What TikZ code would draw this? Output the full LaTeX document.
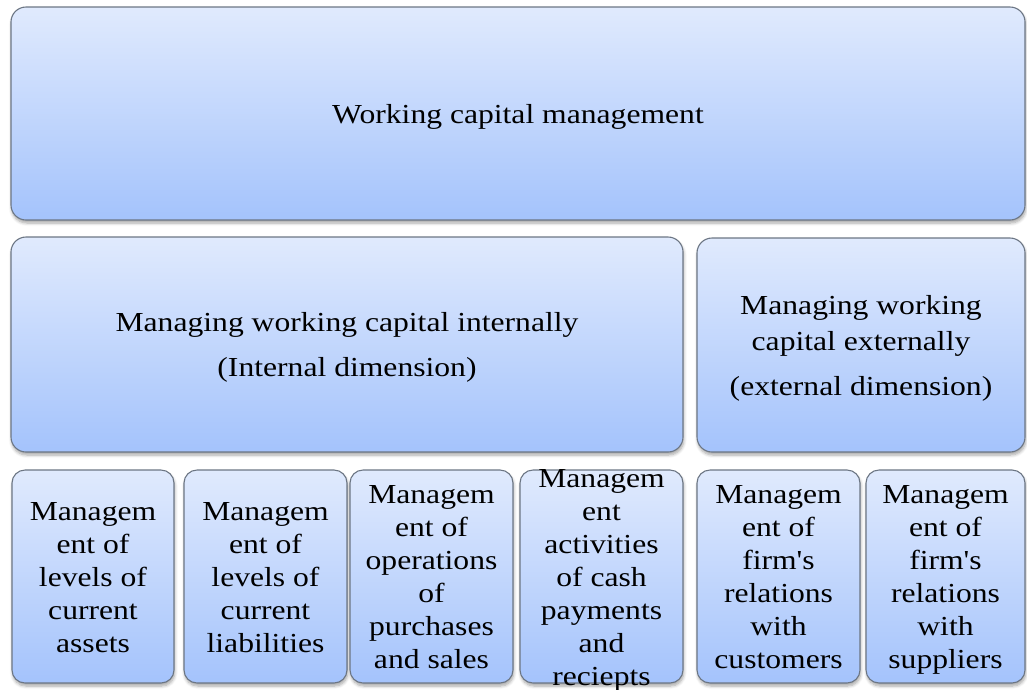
\documentclass[tikz,border=0pt]{standalone}
\usepackage{fontspec}
\setmainfont{Liberation Serif}
% Times-like face, slightly widened
\newfontfamily\boxfont[FakeStretch=1.15]{Liberation Serif}
\usetikzlibrary{shadows.blur}

\definecolor{boxtop}{RGB}{224,234,253}
\definecolor{boxbot}{RGB}{164,195,252}
\definecolor{boxline}{RGB}{108,118,132}

\tikzset{
  panel/.style={draw=boxline, line width=1.1pt, rounded corners=15pt,
    top color=boxtop, bottom color=boxbot, inner sep=0pt,
    blur shadow={shadow xshift=0.8pt, shadow yshift=-3pt,
      shadow blur radius=3pt, shadow blur steps=6, shadow opacity=35}},
  tile/.style={panel, rounded corners=13pt},
  % text block measured from cap top of the first line to the last baseline
  boxtext/.style={font=\boxfont\fontsize{27.5pt}{33pt}\selectfont,
    align=center, inner sep=0pt, text depth=0pt},
}

\begin{document}
\begin{tikzpicture}[x=1pt, y=-1pt]
\useasboundingbox (0,0) rectangle (1027,689);

% top level
\node[panel, minimum width=1014pt, minimum height=213pt] (wcm) at (518,113.5) {};
\node[boxtext, text height=19pt] (wcmT) at (wcm.center) {Working capital management};

% second level
\node[panel, minimum width=672pt, minimum height=215pt] (int) at (347,344.5) {};
\node[boxtext, text height=64pt] (intT) at (int.center)
  {Managing working capital internally\\[12pt](Internal dimension)};

\node[panel, minimum width=328pt, minimum height=214pt] (ext) at (861,345) {};
\node[boxtext, text height=100pt] (extT) at (ext.center)
  {Managing working\\[3pt]capital externally\\[12pt](external dimension)};

% third level
\node[tile, minimum width=162pt, minimum height=213pt] (ca) at (93,576.5) {};
\node[tile, minimum width=163pt, minimum height=213pt] (cl) at (265.5,576.5) {};
\node[tile, minimum width=163pt, minimum height=213pt] (ps) at (431.5,576.5) {};
\node[tile, minimum width=163pt, minimum height=213pt] (cp) at (601.5,576.5) {};
\node[tile, minimum width=163pt, minimum height=213pt] (cu) at (778.5,576.5) {};
\node[tile, minimum width=159pt, minimum height=213pt] (su) at (945.5,576.5) {};

\node[boxtext, text height=151pt] (caT) at (ca.center)
  {Managem\\ent of\\levels of\\current\\assets};
\node[boxtext, text height=151pt] (clT) at (cl.center)
  {Managem\\ent of\\levels of\\current\\liabilities};
\node[boxtext, text height=184pt] (psT) at (ps.center)
  {Managem\\ent of\\operations\\of\\purchases\\and sales};
\node[boxtext, text height=217pt] (cpT) at (cp.center)
  {Managem\\ent\\activities\\of cash\\payments\\and\\reciepts};
\node[boxtext, text height=184pt] (cuT) at (cu.center)
  {Managem\\ent of\\firm's\\relations\\with\\customers};
\node[boxtext, text height=184pt] (suT) at (su.center)
  {Managem\\ent of\\firm's\\relations\\with\\suppliers};
\end{tikzpicture}
\end{document}
